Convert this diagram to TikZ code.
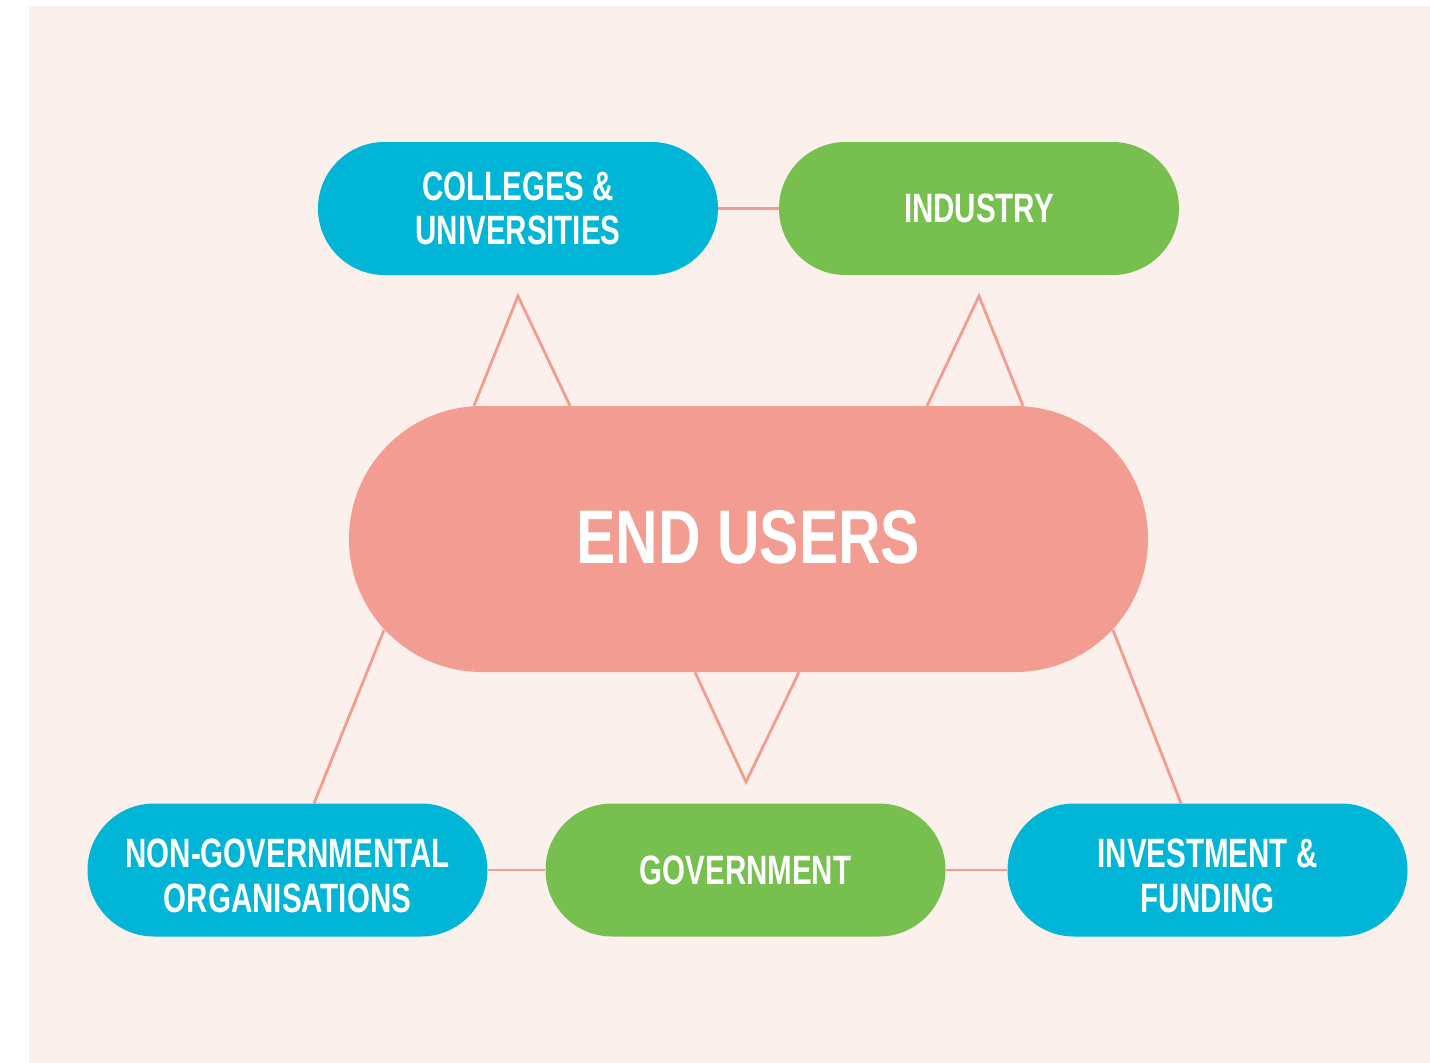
\documentclass[tikz,border=0pt]{standalone}
\usepackage{fontspec}
\setmainfont{Liberation Sans}[FakeStretch=0.72]
\newfontfamily\eufont{Liberation Sans}[FakeStretch=0.775]
\usetikzlibrary{shapes.misc}
\definecolor{bgpink}{HTML}{FCF0ED}
\definecolor{cblue}{HTML}{00B5D6}
\definecolor{cgreen}{HTML}{77C04F}
\definecolor{csalmon}{HTML}{F39C91}
\pgfdeclarelayer{bg}
\pgfdeclarelayer{lines}
\pgfsetlayers{bg,lines,main}
\tikzset{
  pilltext/.style={text=white, align=center, font=\bfseries\fontsize{41}{44.5}\selectfont},
  pill/.style={rounded rectangle, minimum width=400pt, minimum height=133pt, inner sep=0pt, pilltext},
  bluepill/.style={pill, fill=cblue},
  greenpill/.style={pill, fill=cgreen},
  lowtext/.style={label={[pilltext, inner sep=0pt, yshift=-6pt]center:{#1}}},
  link/.style={draw=csalmon, line width=2.8pt, line join=miter}
}
\begin{document}
\begin{tikzpicture}[x=1pt,y=-1pt]
\useasboundingbox (0,0) rectangle (1430,1063);
\begin{pgfonlayer}{bg}
\fill[bgpink] (29,6) rectangle (1430,1063);
\end{pgfonlayer}
\node[bluepill] (col) at (518,208.5) {COLLEGES \&\\UNIVERSITIES};
\node[greenpill] (ind) at (979,208.5) {INDUSTRY};
\node[rounded rectangle, minimum width=799pt, minimum height=266pt, inner sep=0pt, fill=csalmon,
  text=white, text height=48pt, text depth=0pt,
  font=\eufont\bfseries\fontsize{76}{80}\selectfont] (eu) at (748.5,539) {END USERS};
\node[bluepill, lowtext={NON-GOVERNMENTAL\\ORGANISATIONS}] (ngo) at (287.5,870) {};
\node[greenpill] (gov) at (745.5,870) {GOVERNMENT};
\node[bluepill, lowtext={INVESTMENT \&\\FUNDING}] (inv) at (1207.5,870) {};
\coordinate (apexA) at (518,296);
\coordinate (apexB) at (979,296);
\coordinate (apexC) at (746,782);
\coordinate (euL) at (384,630);
\coordinate (euR) at (1113,630);
\begin{pgfonlayer}{lines}
\draw[link] (col.east) -- (ind.west);
\draw[link] (ngo.east) -- (gov.west);
\draw[link] (gov.east) -- (inv.west);
\draw[link] (eu.north -| 474,0) -- (apexA) -- (eu.north -| 570,0);
\draw[link] (eu.north -| 927,0) -- (apexB) -- (eu.north -| 1023,0);
\draw[link] (eu.south -| 695,0) -- (apexC) -- (eu.south -| 799,0);
\draw[link] (euL) -- (ngo.north -| 314,0);
\draw[link] (euR) -- (inv.north -| 1181,0);
\end{pgfonlayer}
\end{tikzpicture}
\end{document}
